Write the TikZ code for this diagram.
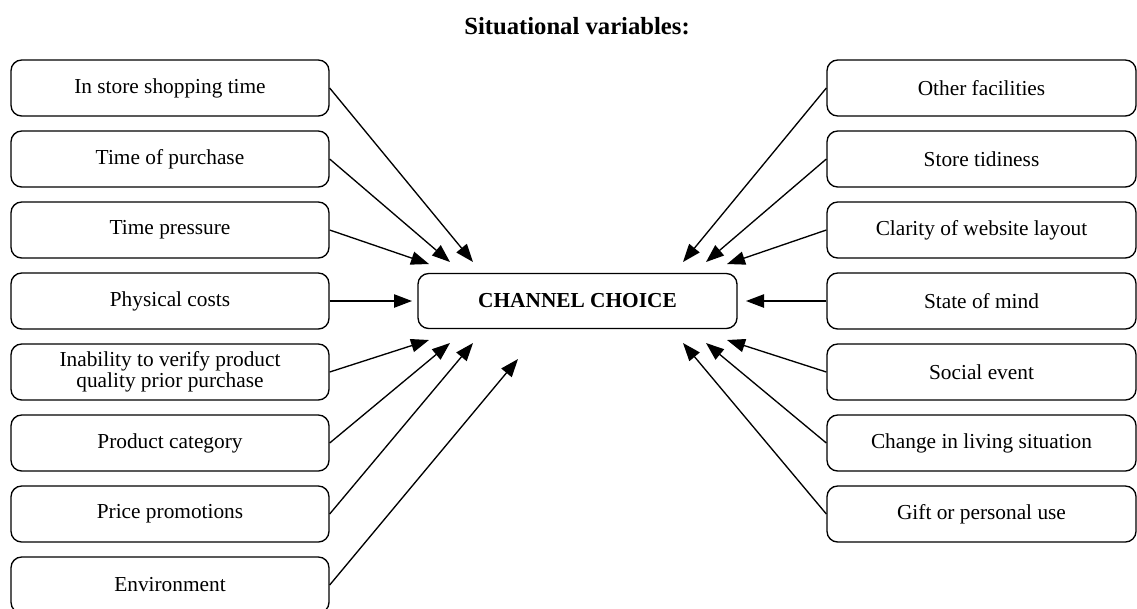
\documentclass[tikz,border=0pt]{standalone}
\usepackage{fontspec}
\setmainfont{Liberation Serif}
\usetikzlibrary{arrows.meta}
\begin{document}
\begin{tikzpicture}[x=0.75pt,y=-0.75pt,
  factor/.style={draw, line width=1pt, rounded corners=8pt, minimum height=42pt,
    align=center, inner sep=0pt, font=\fontsize{16}{15.5}\selectfont},
  leftbox/.style={factor, minimum width=238.5pt},
  rightbox/.style={factor, minimum width=231.75pt},
  choice/.style={draw, line width=1pt, rounded corners=8pt, minimum width=239.25pt,
    minimum height=41.25pt, inner sep=0pt, font=\fontsize{16}{17}\selectfont\bfseries},
  heading/.style={font=\fontsize{18.5}{20}\selectfont\bfseries, inner sep=0pt},
  link/.style={line width=1pt, -{Triangle[length=13.5pt,width=10pt]}}]

\clip (0,0) rectangle (1137,608);

% heading and central outcome
\node[heading] (title) at (577,26) {Situational variables:};
\node[choice] (cc) at (577.5,301) {CHANNEL CHOICE};

% left-hand factors
\node[leftbox] (l1) at (170,88)  {In store shopping time};
\node[leftbox] (l2) at (170,159) {Time of purchase};
\node[leftbox] (l3) at (170,230) {Time pressure};
\node[leftbox] (l4) at (170,301) {Physical costs};
\node[leftbox] (l5) at (170,372) {Inability to verify product\\quality prior purchase};
\node[leftbox] (l6) at (170,443) {Product category};
\node[leftbox] (l7) at (170,514) {Price promotions};
\node[leftbox] (l8) at (170,585) {Environment};

% right-hand factors
\node[rightbox] (r1) at (981.5,88)  {Other facilities};
\node[rightbox] (r2) at (981.5,159) {Store tidiness};
\node[rightbox] (r3) at (981.5,230) {Clarity of website layout};
\node[rightbox] (r4) at (981.5,301) {State of mind};
\node[rightbox] (r5) at (981.5,372) {Social event};
\node[rightbox] (r6) at (981.5,443) {Change in living situation};
\node[rightbox] (r7) at (981.5,514) {Gift or personal use};

% arrow tips around the central box
\coordinate (tl1) at (473,262);
\coordinate (tl2) at (450,262);
\coordinate (tl3) at (429,264);
\coordinate (tl4) at (412,301);
\coordinate (tl5) at (429,340);
\coordinate (tl6) at (450,343);
\coordinate (tl7) at (473,343);
\coordinate (tl8) at (518,359);
\coordinate (tr1) at (683,262);
\coordinate (tr2) at (706,262);
\coordinate (tr3) at (727,264);
\coordinate (tr4) at (746,301);
\coordinate (tr5) at (727,340);
\coordinate (tr6) at (706,343);
\coordinate (tr7) at (683,343);

\foreach \i in {1,...,8} {\draw[link] (l\i.east) -- (tl\i);}
\foreach \i in {1,...,7} {\draw[link] (r\i.west) -- (tr\i);}
\end{tikzpicture}
\end{document}
